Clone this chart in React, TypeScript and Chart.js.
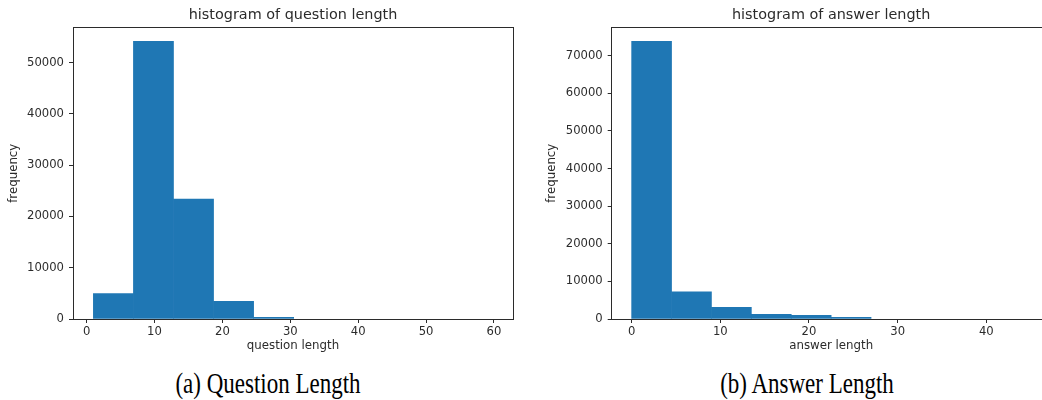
import React, { useEffect, useRef } from 'react';
import { Chart, registerables } from 'chart.js';

Chart.register(...registerables);

// ---- Data ----
const questionBinEdges = [1, 6.9, 12.8, 18.7, 24.6, 30.5, 36.4, 42.3, 48.2, 54.1, 60];
const questionCounts = [4980, 54150, 23400, 3430, 350, 0, 0, 0, 0, 0];
const questionXTicks = [0, 10, 20, 30, 40, 50, 60];
const questionYTicks = [0, 10000, 20000, 30000, 40000, 50000];

const answerBinEdges = [0, 4.5, 9, 13.5, 18, 22.5, 27, 31.5, 36, 40.5, 45];
const answerCounts = [73800, 7240, 3100, 1250, 980, 420, 0, 0, 0, 0];
const answerXTicks = [0, 10, 20, 30, 40];
const answerYTicks = [0, 10000, 20000, 30000, 40000, 50000, 60000, 70000];

const BAR_COLOR = '#1f77b4';
const INK = '#2b2b2b';
const FONT = 'DejaVu Sans';

type HistProps = {
  edges: number[];
  counts: number[];
  xTicks: number[];
  yTicks: number[];
  xMin: number;
  xMax: number;
  yMax: number;
  title: string;
  xLabel: string;
  width: number;
  height: number;
  yAxisWidth: number;
  rightWidth: number;
  topHeight: number;
  bottomHeight: number;
  yTitlePad: number;
};

function Histogram(p: HistProps) {
  const ref = useRef<HTMLCanvasElement | null>(null);
  useEffect(() => {
    if (!ref.current) return;
    const points = p.counts.map((c, i) => ({
      x: (p.edges[i] + p.edges[i + 1]) / 2,
      y: c > 0 ? c : null,
    }));
    const chart = new Chart(ref.current, {
      type: 'bar',
      data: {
        datasets: [
          {
            data: points as any,
            backgroundColor: BAR_COLOR,
            borderWidth: 0,
            barPercentage: 1,
            categoryPercentage: 1,
          },
        ],
      },
      options: {
        animation: false,
        responsive: false,
        devicePixelRatio: 1,
        layout: { padding: 0 },
        plugins: { legend: { display: false }, tooltip: { enabled: false }, title: { display: false } },
        scales: {
          x: {
            type: 'linear',
            position: 'bottom',
            min: p.xMin,
            max: p.xMax,
            offset: false,
            afterBuildTicks: (s: any) => {
              s.ticks = p.xTicks.map((v) => ({ value: v }));
            },
            afterFit: (s: any) => {
              s.height = p.bottomHeight;
            },
            ticks: {
              color: INK,
              font: { family: FONT, size: 11.6 },
              padding: 2,
              maxRotation: 0,
              autoSkip: false,
              callback: (v: any) => String(v),
            },
            grid: { display: true, drawOnChartArea: false, drawTicks: true, tickLength: 4, color: INK, offset: false },
            border: { display: true, color: INK, width: 1 },
            title: {
              display: true,
              text: p.xLabel,
              color: INK,
              font: { family: FONT, size: 11.8 },
              padding: { top: 0, bottom: 7 },
            },
          },
          xt: {
            type: 'linear',
            axis: 'x',
            position: 'top',
            min: 0,
            max: 1,
            afterFit: (s: any) => {
              s.height = p.topHeight;
            },
            ticks: { display: false },
            grid: { display: false, drawTicks: false },
            border: { display: true, color: INK, width: 1 },
            title: {
              display: true,
              text: p.title,
              color: INK,
              font: { family: FONT, size: 14.4 },
              padding: { top: 6.4, bottom: 0 },
            },
          },
          y: {
            type: 'linear',
            position: 'left',
            min: 0,
            max: p.yMax,
            afterBuildTicks: (s: any) => {
              s.ticks = p.yTicks.map((v) => ({ value: v }));
            },
            afterFit: (s: any) => {
              s.width = p.yAxisWidth;
            },
            ticks: {
              color: INK,
              font: { family: FONT, size: 11.6 },
              padding: 5,
              autoSkip: false,
              callback: (v: any) => String(v),
            },
            grid: { display: true, drawOnChartArea: false, drawTicks: true, tickLength: 4, color: INK },
            border: { display: true, color: INK, width: 1 },
            title: {
              display: true,
              text: 'frequency',
              color: INK,
              font: { family: FONT, size: 11.8 },
              padding: { top: p.yTitlePad, bottom: 0 },
            },
          },
          yr: {
            type: 'linear',
            axis: 'y',
            position: 'right',
            min: 0,
            max: 1,
            afterFit: (s: any) => {
              s.width = p.rightWidth;
            },
            ticks: { display: false },
            grid: { display: false, drawTicks: false },
            border: { display: true, color: INK, width: 1 },
          },
        },
      } as any,
    });
    return () => chart.destroy();
  }, []);
  return (
    <canvas
      ref={ref}
      width={p.width}
      height={p.height}
      style={{ width: p.width, height: p.height, display: 'block' }}
    />
  );
}

const captionStyle: React.CSSProperties = {
  position: 'absolute',
  top: 371,
  width: 300,
  textAlign: 'center',
  fontFamily: '"Liberation Serif", "Times New Roman", serif',
  fontSize: 23,
  lineHeight: '26px',
  color: '#000',
  whiteSpace: 'nowrap',
  transform: 'scaleY(1.27)',
  transformOrigin: '50% 50%',
};

export default function App() {
  return (
    <div style={{ position: 'absolute', left: 0, top: 0, width: 1042, height: 400, background: '#fff', overflow: 'hidden' }}>
      <div style={{ position: 'absolute', left: 0, top: 0, width: 521, height: 360, overflow: 'hidden' }}>
        <Histogram
          edges={questionBinEdges}
          counts={questionCounts}
          xTicks={questionXTicks}
          yTicks={questionYTicks}
          xMin={-2.0}
          xMax={62.8}
          yMax={56860}
          title="histogram of question length"
          xLabel="question length"
          width={521}
          height={360}
          yAxisWidth={73}
          rightWidth={8}
          topHeight={27.5}
          bottomHeight={41}
          yTitlePad={7}
        />
      </div>
      <div style={{ position: 'absolute', left: 521, top: 0, width: 521, height: 360, overflow: 'hidden' }}>
        <Histogram
          edges={answerBinEdges}
          counts={answerCounts}
          xTicks={answerXTicks}
          yTicks={answerYTicks}
          xMin={-2.25}
          xMax={47.25}
          yMax={77490}
          title="histogram of answer length"
          xLabel="answer length"
          width={540}
          height={360}
          yAxisWidth={90.7}
          rightWidth={10.4}
          topHeight={27.5}
          bottomHeight={41}
          yTitlePad={23.6}
        />
      </div>
      <div style={{ ...captionStyle, left: 268 - 150 }}>(a) Question Length</div>
      <div style={{ ...captionStyle, left: 807 - 150 }}>(b) Answer Length</div>
    </div>
  );
}
